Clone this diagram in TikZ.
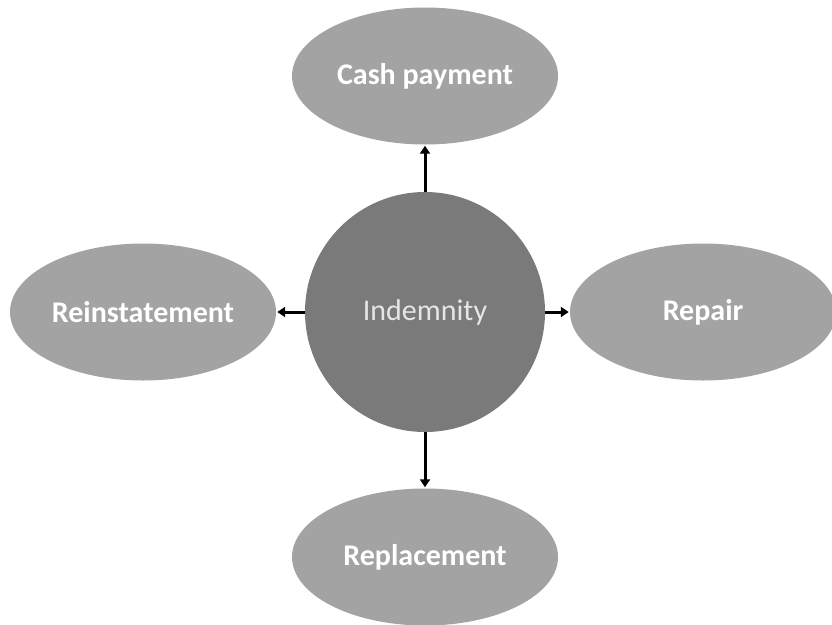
\documentclass[tikz,border=0pt]{standalone}
\usepackage{fontspec}
\setmainfont{Carlito}
\usetikzlibrary{shapes.geometric,arrows.meta}
\definecolor{ellgray}{HTML}{A3A3A3}
\definecolor{circgray}{HTML}{7A7A7A}
\definecolor{txtlight}{HTML}{E6E6E6}
\begin{document}
\begin{tikzpicture}[x=1pt,y=-1pt,
  outer/.style={ellipse,fill=ellgray,draw=none,minimum width=266pt,minimum height=137pt,inner sep=0pt,
    font=\fontsize{30}{36}\selectfont\bfseries,text=white},
  center/.style={circle,fill=circgray,draw=none,minimum size=240pt,inner sep=0pt,
    font=\fontsize{30}{36}\selectfont,text=txtlight},
  conn/.style={line width=3pt,-{Triangle[length=8pt,width=10pt]},shorten >=1pt}]
\useasboundingbox (0,0) rectangle (832,624);
\node[center] (ind) at (425,312) {Indemnity};
\node[outer] (cash) at (425,76) {Cash payment};
\node[outer] (rein) at (143,312) {Reinstatement};
\node[outer] (rep) at (703,312) {Repair};
\node[outer] (repl) at (425,557) {Replacement};
\draw[conn] (ind) -- (cash);
\draw[conn] (ind) -- (rein);
\draw[conn] (ind) -- (rep);
\draw[conn] (ind) -- (repl);
\end{tikzpicture}
\end{document}
